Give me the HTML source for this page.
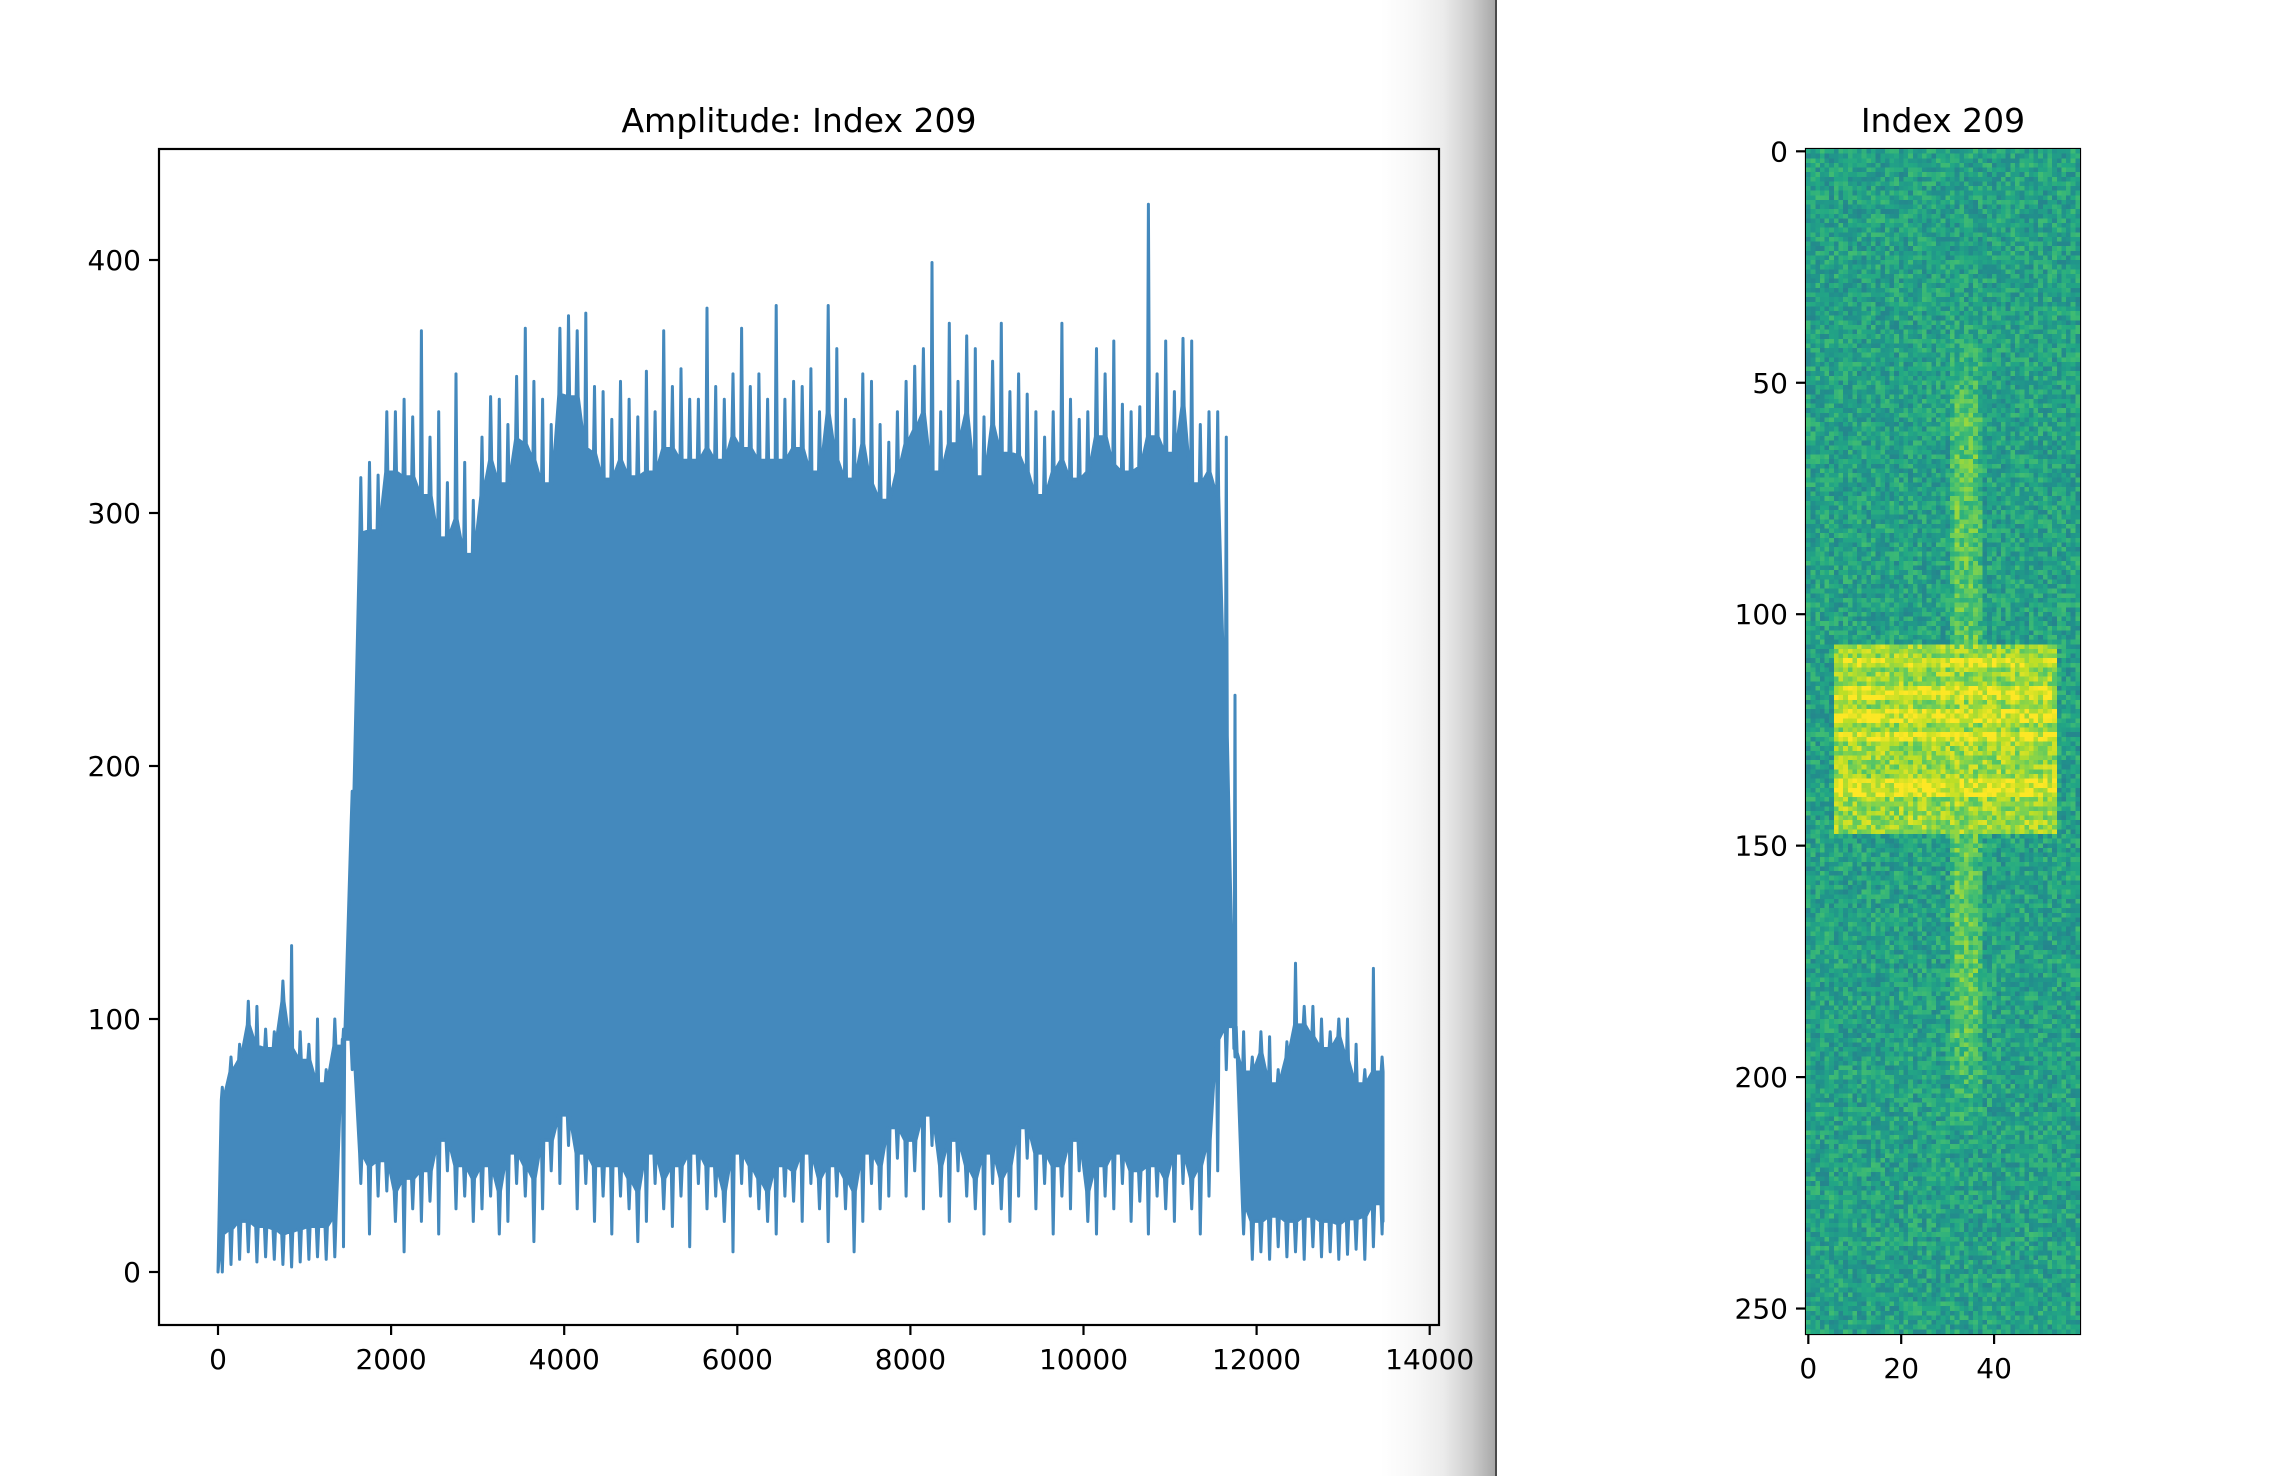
<!DOCTYPE html>
<html><head><meta charset="utf-8"><style>
html,body{margin:0;padding:0;background:#fff;}
body{width:2272px;height:1476px;position:relative;overflow:hidden;font-family:"DejaVu Sans","Liberation Sans",sans-serif;}
#main{position:absolute;left:0;top:0;}
#hm{position:absolute;left:1806px;top:149px;width:274px;height:1185px;image-rendering:pixelated;}
#shade{position:absolute;left:1380px;top:0;width:115px;height:1476px;background:linear-gradient(to right,rgba(0,0,0,0) 0%,rgba(0,0,0,0.03) 30%,rgba(0,0,0,0.08) 55%,rgba(0,0,0,0.2) 80%,rgba(0,0,0,0.34) 100%);}
#edge{position:absolute;left:1495px;top:0;width:2px;height:1476px;background:#4a4a4a;}
</style></head><body>
<svg id="main" width="2272" height="1476"></svg>
<canvas id="hm" width="59" height="256"></canvas>
<div id="shade"></div>
<div id="edge"></div>
<script>
// ---- amplitude data (bins of 100 samples) ----
const binStep = 100;
const hiVals = [73,85,90,107,105,96,95,115,129,95,90,100,80,100,96,190,314,320,315,340,340,345,338,372,330,340,312,355,320,305,330,346,345,335,354,373,352,345,335,373,378,372,379,350,348,337,352,345,338,356,340,372,350,357,345,345,381,350,345,355,373,350,355,345,382,345,352,350,357,340,382,365,345,337,355,352,335,328,340,352,358,365,399,340,375,352,370,365,338,360,375,348,355,347,340,330,340,375,345,337,340,365,355,368,343,340,342,422,355,368,348,369,368,335,340,340,330,228,95,85,95,93,80,91,122,105,105,100,95,100,100,90,80,120,85];
const loVals = [0,3,5,8,4,6,5,3,2,4,5,6,5,6,10,80,35,15,30,32,20,8,25,20,28,15,40,25,30,20,25,30,15,20,35,30,12,25,40,35,50,25,35,20,30,15,30,25,12,20,35,25,18,30,10,35,25,30,20,8,35,30,25,20,15,30,28,20,35,25,12,30,25,8,20,35,25,30,45,30,40,25,50,30,20,40,30,25,15,35,25,20,30,45,25,35,15,30,25,40,20,15,30,25,35,20,28,15,30,25,20,35,25,15,30,40,80,85,15,5,8,5,10,6,8,5,10,6,8,5,7,9,5,10,15];
const xTicks = [0,2000,4000,6000,8000,10000,12000,14000];
const yTicks = [0,100,200,300,400];
// ---- heatmap data ----
const hmCols = 59, hmRows = 256;
const bgLevel = 0.57;
const stripeCols = [31,37], stripeRows = [35,215], stripeLevel = 0.74;
const bandCols = [6,53], bandRows = [107,147], bandLevel = 0.84;
const brightRows = [110,111,116,117,118,121,122,123,126,127,136,137,138,139];
const brightLevel = 0.95;
const hmYTicks = [0,50,100,150,200,250];
const hmXTicks = [0,20,40];

const NS='http://www.w3.org/2000/svg';
const svg=document.getElementById('main');
function mk(tag,attrs,parent){const e=document.createElementNS(NS,tag);for(const k in attrs)e.setAttribute(k,attrs[k]);(parent||svg).appendChild(e);return e;}

const L=159,R=1439,T=149,B=1325;
const xs=v=>218+v*0.08655;
const ys=v=>1272-v*2.53;

const bg=mk('rect',{x:L,y:T,width:R-L,height:B-T,fill:'#fff'});



let upperPts=[[xs(0),ys(0)]];
for(let i=0;i<hiVals.length;i++){
  const x=i*binStep+50;
  const nb=i+1<hiVals.length?hiVals[i+1]:hiVals[i];
  const base=Math.min(hiVals[i],nb)*0.93;
  upperPts.push([xs(x-12),ys(base)]);
  upperPts.push([xs(x),ys(hiVals[i])]);
  upperPts.push([xs(x+12),ys(base)]);
}
const lastX=hiVals.length*binStep-40;
upperPts.push([xs(lastX),ys(20)]);
let lowerPts=[];
for(let i=loVals.length-1;i>=0;i--){
  const x=i*binStep+50;
  const nb=i+1<loVals.length?loVals[i+1]:loVals[i];
  const base=Math.max(loVals[i],nb)+12;
  lowerPts.push([xs(Math.min(x+14,lastX)),ys(base)]);
  lowerPts.push([xs(x),ys(loVals[i])]);
  lowerPts.push([xs(x-14),ys(base)]);
}
const pts=upperPts.concat(lowerPts).map(p=>p[0].toFixed(1)+','+p[1].toFixed(1)).join(' ');
const line=mk('polygon',{points:pts,fill:'#4489bd',stroke:'#4489bd','stroke-width':3,'stroke-linejoin':'round'});



const frame=mk('rect',{x:L,y:T,width:R-L,height:B-T,fill:'none',stroke:'#000','stroke-width':2.2});



xTicks.forEach(v=>{
  const x=xs(v);
  const t=mk('line',{x1:x,y1:B,x2:x,y2:B+10,stroke:'#000','stroke-width':2.2});
  
  
  const l=mk('text',{x:x,y:B+44,'font-size':28,'text-anchor':'middle',fill:'#000'});
  l.textContent=v;
  
  
});
yTicks.forEach(v=>{
  const y=ys(v);
  const t=mk('line',{x1:L-10,y1:y,x2:L,y2:y,stroke:'#000','stroke-width':2.2});
  
  
  const l=mk('text',{x:L-18,y:y+10,'font-size':28,'text-anchor':'end',fill:'#000'});
  l.textContent=v;
  
  
});
const t1=mk('text',{x:(L+R)/2,y:132,'font-size':33,'text-anchor':'middle',fill:'#000'});
t1.textContent='Amplitude: Index 209';



const HL=1806,HR=2080,HT=149,HB=1334;
const hx=v=>HL+(v+0.5)*(HR-HL)/hmCols;
const hy=v=>HT+(v+0.5)*(HB-HT)/hmRows;
const hf=mk('rect',{x:HL,y:HT,width:HR-HL,height:HB-HT,fill:'none',stroke:'#000','stroke-width':2.2});


hmYTicks.forEach(v=>{
  const y=hy(v);
  const t=mk('line',{x1:HL-10,y1:y,x2:HL,y2:y,stroke:'#000','stroke-width':2.2});
  
  
  const l=mk('text',{x:HL-18,y:y+10,'font-size':28,'text-anchor':'end',fill:'#000'});
  l.textContent=v;
  
  
});
hmXTicks.forEach(v=>{
  const x=hx(v);
  const t=mk('line',{x1:x,y1:HB,x2:x,y2:HB+10,stroke:'#000','stroke-width':2.2});
  
  
  const l=mk('text',{x:x,y:HB+44,'font-size':28,'text-anchor':'middle',fill:'#000'});
  l.textContent=v;
  
  
});
const t2=mk('text',{x:(HL+HR)/2,y:132,'font-size':33,'text-anchor':'middle',fill:'#000'});
t2.textContent='Index 209';



const vir=[[68,1,84],[72,36,117],[65,68,135],[53,95,141],[42,120,142],[33,145,140],[34,168,132],[68,191,112],[122,209,81],[189,223,38],[253,231,37]];
function cmap(v){v=Math.max(0,Math.min(1,v));const f=v*10,i=Math.min(9,Math.floor(f)),t=f-i;const a=vir[i],b=vir[i+1];return [a[0]+(b[0]-a[0])*t,a[1]+(b[1]-a[1])*t,a[2]+(b[2]-a[2])*t];}
let seed=12345;
function tex(){seed=(seed*1103515245+12345)&0x7fffffff;return seed/0x7fffffff-0.5;} // visual texture only
const cv=document.getElementById('hm');const ctx=cv.getContext('2d');
const img=ctx.createImageData(hmCols,hmRows);
for(let r=0;r<hmRows;r++){for(let c=0;c<hmCols;c++){
  let v=bgLevel;
  if(c>=stripeCols[0]&&c<=stripeCols[1]&&r>=stripeRows[0]&&r<=stripeRows[1]){
    const edge=Math.min(r-stripeRows[0],stripeRows[1]-r);
    const fade=Math.min(1,edge/25);
    const colEdge=(c===stripeCols[0]||c===stripeCols[1])?0.6:1;
    v=bgLevel+(stripeLevel-bgLevel)*fade*colEdge;
  }
  if(c>=bandCols[0]&&c<=bandCols[1]&&r>=bandRows[0]&&r<=bandRows[1]){v=bandLevel;if(brightRows.indexOf(r)>=0)v=brightLevel;}
  v+=tex()*0.24;
  const col=cmap(v);const k=(r*hmCols+c)*4;
  img.data[k]=col[0];img.data[k+1]=col[1];img.data[k+2]=col[2];img.data[k+3]=255;
}}
ctx.putImageData(img,0,0);
</script>
</body></html>
